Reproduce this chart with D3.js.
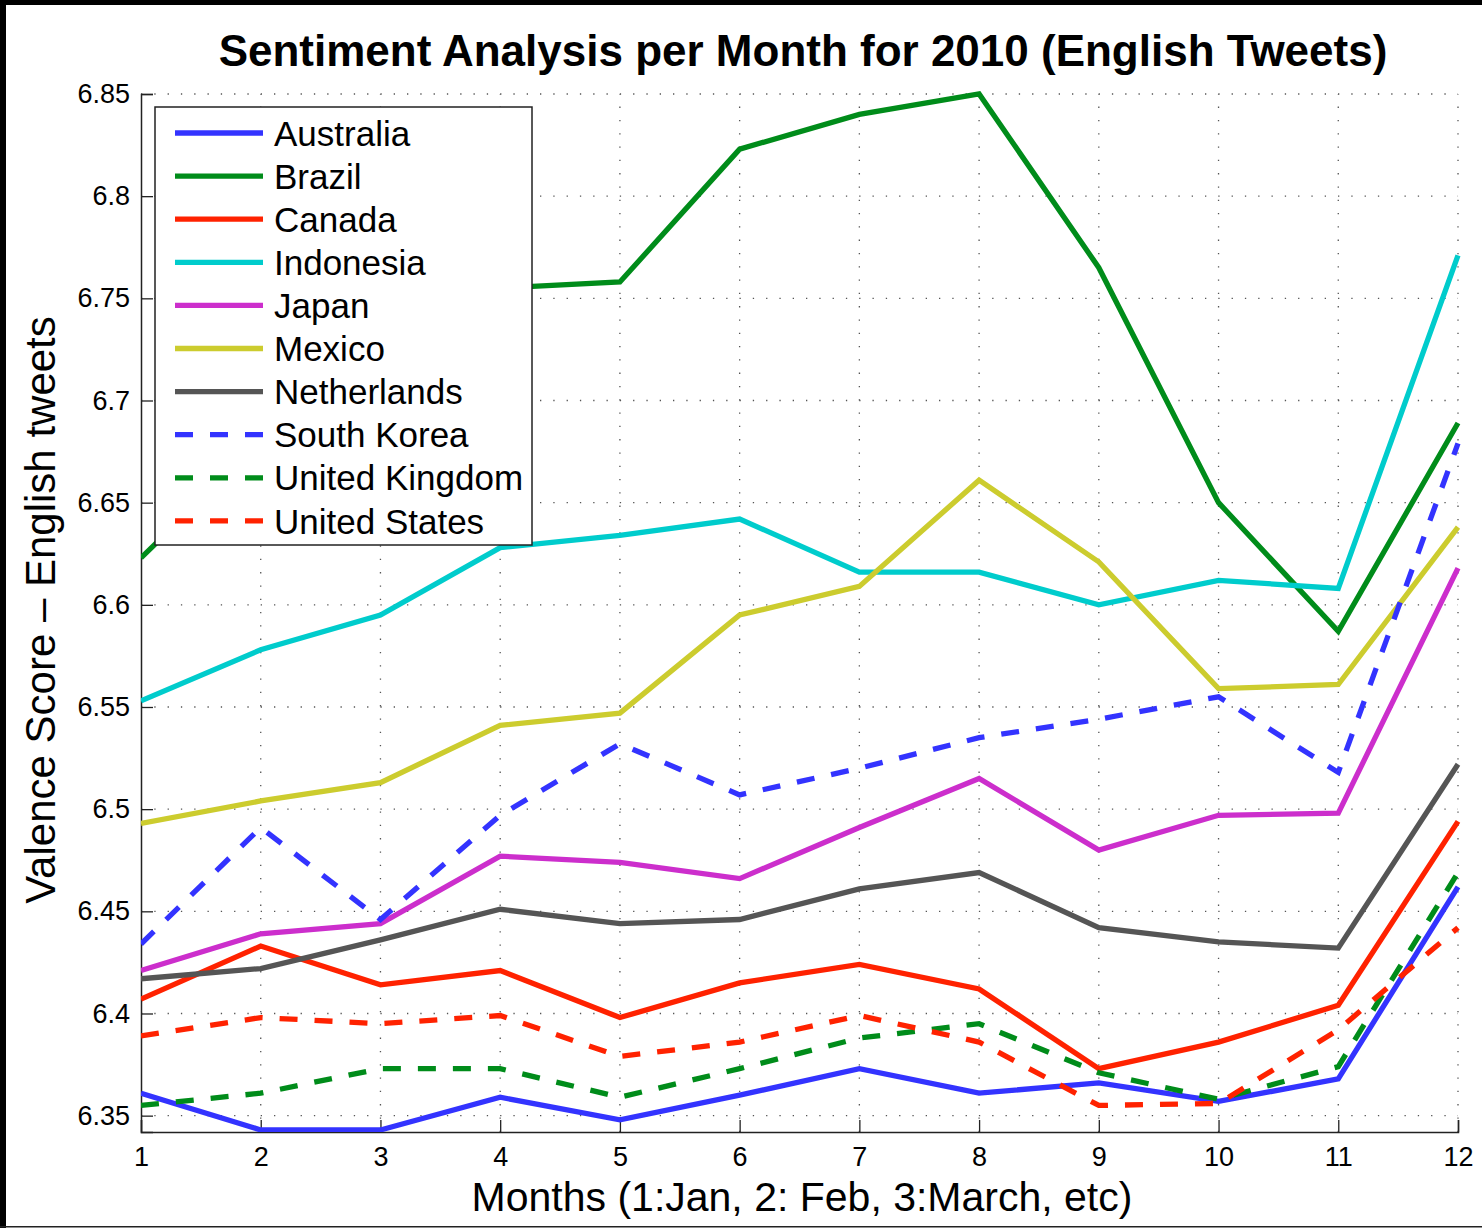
<!DOCTYPE html>
<html>
<head>
<meta charset="utf-8">
<script src="https://cdn.jsdelivr.net/npm/d3@7"></script>
<style>
  body { margin: 0; background: #fff; }
  text { font-family: "Liberation Sans", Arial, Helvetica, sans-serif; fill: #000; }
</style>
</head>
<body>
<div id="chart"></div>
<script>
// data
const months = [1, 2, 3, 4, 5, 6, 7, 8, 9, 10, 11, 12];
const countries = ["Australia", "Brazil", "Canada", "Indonesia", "Japan", "Mexico",
                   "Netherlands", "South Korea", "United Kingdom", "United States"];
const australia     = [6.361, 6.343, 6.343, 6.359, 6.348, 6.360, 6.373, 6.361, 6.366, 6.357, 6.368, 6.462];
const brazil        = [6.623, 6.680, 6.720, 6.755, 6.758, 6.823, 6.840, 6.850, 6.765, 6.650, 6.587, 6.689];
const canada        = [6.407, 6.433, 6.414, 6.421, 6.398, 6.415, 6.424, 6.412, 6.373, 6.386, 6.404, 6.494];
const indonesia     = [6.553, 6.578, 6.595, 6.628, 6.634, 6.642, 6.616, 6.616, 6.600, 6.612, 6.608, 6.771];
const japan         = [6.421, 6.439, 6.444, 6.477, 6.474, 6.466, 6.491, 6.515, 6.480, 6.497, 6.498, 6.618];
const mexico        = [6.493, 6.504, 6.513, 6.541, 6.547, 6.595, 6.609, 6.661, 6.621, 6.559, 6.561, 6.638];
const netherlands   = [6.417, 6.422, 6.436, 6.451, 6.444, 6.446, 6.461, 6.469, 6.442, 6.435, 6.432, 6.522];
const southKorea    = [6.434, 6.491, 6.446, 6.497, 6.532, 6.507, 6.520, 6.535, 6.544, 6.555, 6.518, 6.679];
const unitedKingdom = [6.355, 6.361, 6.373, 6.373, 6.359, 6.373, 6.388, 6.395, 6.371, 6.358, 6.374, 6.469];
const unitedStates  = [6.389, 6.398, 6.395, 6.399, 6.379, 6.386, 6.399, 6.386, 6.355, 6.356, 6.392, 6.442];
const yTicks = [6.35, 6.4, 6.45, 6.5, 6.55, 6.6, 6.65, 6.7, 6.75, 6.8, 6.85];

const values = [australia, brazil, canada, indonesia, japan, mexico,
                netherlands, southKorea, unitedKingdom, unitedStates];
const colors = ["#3333ff", "#008c1a", "#ff2200", "#00cccc", "#cc2ecc", "#cccc2e",
                "#555555", "#3333ff", "#008c1a", "#ff2200"];
const dashed = [false, false, false, false, false, false, false, true, true, true];

const series = countries.map((c, i) => ({
    name: c, color: colors[i], dashed: dashed[i],
    points: months.map((m, j) => ({ m: m, v: values[i][j] }))
}));

const width = 1482;
const height = 1228;
const marginLeft = 141;
const marginRight = 24;
const marginTop = 94;
const marginBottom = 96;

const x = d3.scaleLinear()
    .domain([1, 12])
    .range([marginLeft, width - marginRight]);
const y = d3.scaleLinear()
    .domain([6.342, 6.85])
    .range([height - marginBottom, marginTop]);

const svg = d3.select("#chart").append("svg")
    .attr("width", width)
    .attr("height", height)
    .style("display", "block");

svg.append("rect").attr("width", width).attr("height", height).attr("fill", "#fff");

// black frame edges like the screenshot
svg.append("rect").attr("x", 0).attr("y", 0).attr("width", width).attr("height", 5).attr("fill", "#000");
svg.append("rect").attr("x", 0).attr("y", 0).attr("width", 6).attr("height", height).attr("fill", "#000");
svg.append("rect").attr("x", 0).attr("y", height - 2).attr("width", width).attr("height", 1.5).attr("fill", "#222");

// dotted grid
const grid = svg.append("g").attr("class", "grid")
    .attr("stroke", "#555")
    .attr("stroke-width", 1.3)
    .attr("stroke-dasharray", "1.3,12");
grid.selectAll("line.v")
    .data(months.slice(1))
    .join("line")
    .attr("class", "v")
    .attr("x1", d => x(d)).attr("x2", d => x(d))
    .attr("y1", y.range()[0]).attr("y2", y.range()[1]);
grid.selectAll("line.h")
    .data(yTicks)
    .join("line")
    .attr("class", "h")
    .attr("x1", x.range()[0]).attr("x2", x.range()[1])
    .attr("y1", d => y(d)).attr("y2", d => y(d));

// axes (ticks pointing inward)
const xAxis = d3.axisBottom(x).tickValues(months).tickSize(-12).tickPadding(15).tickFormat(d3.format("d"));
const yAxis = d3.axisLeft(y).tickValues(yTicks).tickSize(-12).tickPadding(11).tickFormat(d => String(+d.toFixed(2)));

svg.append("g")
    .attr("class", "x-axis")
    .attr("transform", `translate(0,${y.range()[0]})`)
    .call(xAxis)
    .call(g => g.select(".domain").attr("stroke", "#222").attr("stroke-width", 1.5))
    .call(g => g.selectAll(".tick line").attr("stroke", "#222").attr("stroke-width", 1.3))
    .call(g => g.selectAll(".tick text").attr("font-size", 27).attr("fill", "#000")
        .style("font-family", "'Liberation Sans', Arial, sans-serif"));

svg.append("g")
    .attr("class", "y-axis")
    .attr("transform", `translate(${marginLeft},0)`)
    .call(yAxis)
    .call(g => g.select(".domain").attr("stroke", "#222").attr("stroke-width", 1.5))
    .call(g => g.selectAll(".tick line").attr("stroke", "#222").attr("stroke-width", 1.3))
    .call(g => g.selectAll(".tick text").attr("font-size", 27).attr("fill", "#000")
        .style("font-family", "'Liberation Sans', Arial, sans-serif"));

// lines
svg.append("clipPath").attr("id", "plot-clip")
    .append("rect")
    .attr("x", x.range()[0]).attr("y", y.range()[1] - 3)
    .attr("width", x.range()[1] - x.range()[0] + 3)
    .attr("height", y.range()[0] - y.range()[1] + 3);

const line = d3.line().x(d => x(d.m)).y(d => y(d.v));

svg.append("g")
    .attr("class", "lines")
    .attr("clip-path", "url(#plot-clip)")
    .selectAll("path")
    .data(series)
    .join("path")
    .attr("fill", "none")
    .attr("stroke", d => d.color)
    .attr("stroke-width", 5.3)
    .attr("stroke-linejoin", "miter")
    .attr("stroke-dasharray", d => d.dashed ? "18,17" : null)
    .attr("d", d => line(d.points));

// legend
const legend = svg.append("g").attr("class", "legend").attr("transform", "translate(155,107)");
legend.append("rect")
    .attr("width", 377).attr("height", 438)
    .attr("fill", "#fff").attr("stroke", "#222").attr("stroke-width", 1.5);
const item = legend.selectAll("g.item")
    .data(series)
    .join("g")
    .attr("class", "item")
    .attr("transform", (d, i) => `translate(0,${26 + i * 43.1})`);
item.append("line")
    .attr("x1", 20).attr("x2", 108)
    .attr("stroke", d => d.color)
    .attr("stroke-width", 5.3)
    .attr("stroke-dasharray", d => d.dashed ? "18,17" : null);
item.append("text")
    .attr("x", 119)
    .attr("dy", "0.36em")
    .attr("font-size", 35)
    .text(d => d.name);

// title and axis labels
svg.append("text")
    .attr("x", 803)
    .attr("y", 66)
    .attr("text-anchor", "middle")
    .attr("font-size", 44)
    .attr("font-weight", "bold")
    .text("Sentiment Analysis per Month for 2010 (English Tweets)");

svg.append("text")
    .attr("x", 802)
    .attr("y", 1211)
    .attr("text-anchor", "middle")
    .attr("font-size", 41)
    .text("Months (1:Jan, 2: Feb, 3:March, etc)");

svg.append("text")
    .attr("transform", "rotate(-90)")
    .attr("x", -610)
    .attr("y", 55)
    .attr("text-anchor", "middle")
    .attr("font-size", 42)
    .text("Valence Score \u2013 English tweets");
</script>
</body>
</html>
